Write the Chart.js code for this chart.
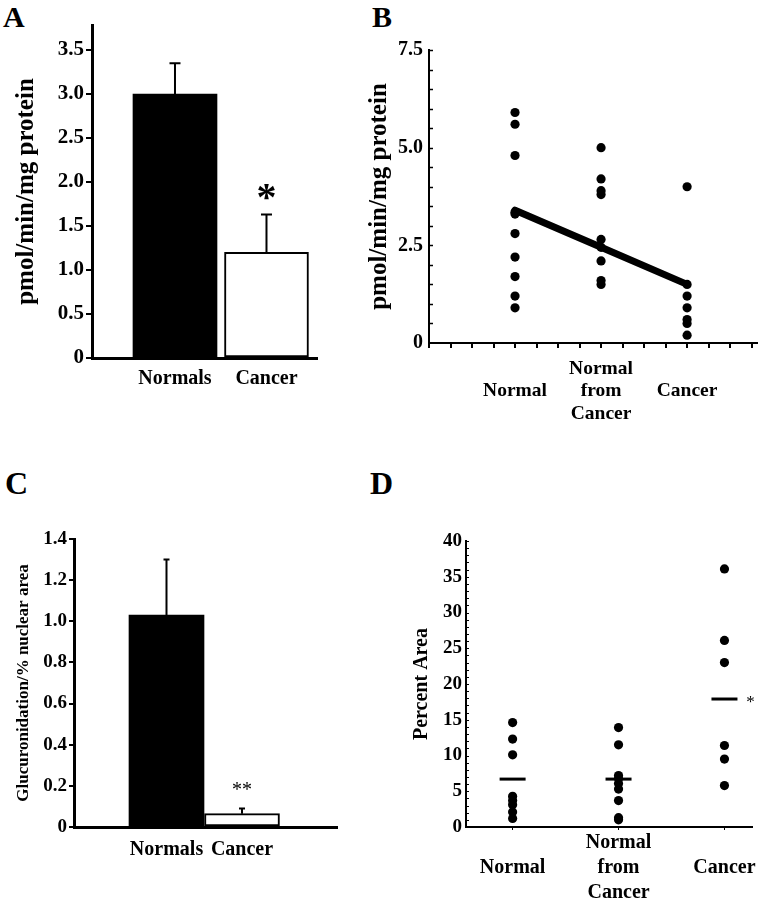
<!DOCTYPE html>
<html><head><meta charset="utf-8">
<script src="https://cdn.jsdelivr.net/npm/chart.js@4/dist/chart.umd.min.js"></script>
<style>
body{margin:0;background:#fff;width:779px;height:900px;position:relative;overflow:hidden;font-family:'Liberation Serif','Times New Roman',serif;}
canvas{position:absolute;}
.lbl{position:absolute;font-weight:bold;line-height:1;color:#000;}
</style></head><body>
<div class="lbl" style="left:3px;top:2px;font-size:30px">A</div>
<div class="lbl" style="left:372px;top:2px;font-size:30px">B</div>
<div class="lbl" style="left:5px;top:467px;font-size:32px">C</div>
<div class="lbl" style="left:370px;top:467px;font-size:32px">D</div>
<canvas id="cA" width="380" height="440" style="left:0;top:0"></canvas>
<canvas id="cB" width="419" height="440" style="left:360px;top:0"></canvas>
<canvas id="cC" width="380" height="450" style="left:0;top:450px"></canvas>
<canvas id="cD" width="399" height="450" style="left:380px;top:450px"></canvas>
<script>
// ---- data ----
const barCategories = ['Normals', 'Cancer'];
const activityMeans = [3.0, 1.2];
const activityErrors = [0.35, 0.43];
const yTicksA = [0, 0.5, 1.0, 1.5, 2.0, 2.5, 3.0, 3.5];

const groupCategories = [['Normal'], ['Normal', 'from', 'Cancer'], ['Cancer']];
const activityNormal = [5.9, 5.6, 4.8, 3.35, 3.3, 2.8, 2.2, 1.7, 1.2, 0.9];
const activityNormalFromCancer = [5.0, 4.2, 3.9, 3.8, 2.65, 2.45, 2.1, 1.6, 1.5];
const activityCancer = [4.0, 1.5, 1.2, 0.9, 0.6, 0.5, 0.2];
const activityFit = [3.4, 2.45, 1.5];
const yMajorB = [0, 2.5, 5.0, 7.5];

const glucMeans = [1.03, 0.065];
const glucErrors = [0.27, 0.025];
const yTicksC = [0, 0.2, 0.4, 0.6, 0.8, 1.0, 1.2, 1.4];

const areaNormal = [14.6, 12.3, 10.1, 4.3, 3.7, 3.1, 2.1, 1.2];
const areaNormalFromCancer = [13.9, 11.5, 7.2, 6.8, 6.1, 5.3, 3.7, 1.3, 1.0];
const areaCancer = [36.1, 26.1, 23.0, 11.4, 9.5, 5.8];
const areaMeans = [6.7, 6.7, 17.9];
const yMajorD = [0, 5, 10, 15, 20, 25, 30, 35, 40];

// ---- helpers ----
const FAM = "'Liberation Serif','Times New Roman',serif";
Chart.defaults.font.family = FAM;
Chart.defaults.font.weight = 'bold';
Chart.defaults.color = '#000';
const near = (a, b) => Math.abs(a - b) < 1e-6;
const fmt1 = v => near(v, 0) ? '0' : v.toFixed(1);
const fmtMajor = (list, f) => v => list.some(m => near(m, v)) ? f(v) : '';
const catLabel = cats => v => (near(v, Math.round(v)) && cats[Math.round(v)] !== undefined) ? cats[Math.round(v)] : '';

const errorBars = (cap, lw) => ({
  id: 'errorBars',
  afterDatasetsDraw(chart) {
    const ds = chart.data.datasets[0], meta = chart.getDatasetMeta(0), y = chart.scales.y, ctx = chart.ctx;
    ctx.save(); ctx.strokeStyle = '#000'; ctx.lineWidth = lw;
    meta.data.forEach((el, i) => {
      const top = y.getPixelForValue(ds.data[i].y + ds.errors[i]);
      ctx.beginPath();
      ctx.moveTo(el.x, el.y); ctx.lineTo(el.x, top);
      ctx.moveTo(el.x - cap / 2, top); ctx.lineTo(el.x + cap / 2, top);
      ctx.stroke();
    });
    ctx.restore();
  }
});
const marks = list => ({
  id: 'marks',
  afterDatasetsDraw(chart) {
    const ctx = chart.ctx;
    ctx.save(); ctx.fillStyle = '#000'; ctx.textAlign = 'center'; ctx.textBaseline = 'alphabetic';
    list.forEach(m => {
      ctx.font = m.font;
      const t = ctx.measureText(m.text);
      const px = chart.scales.x.getPixelForValue(m.x) + (m.dx || 0);
      const cy = chart.scales.y.getPixelForValue(m.y) + (m.dy || 0);
      ctx.fillText(m.text, px, cy + (t.actualBoundingBoxAscent - t.actualBoundingBoxDescent) / 2);
    });
    ctx.restore();
  }
});
const innerTicks = (len, lw) => ({
  id: 'innerTicks',
  afterDatasetsDraw(chart) {
    const s = chart.scales.y, ctx = chart.ctx, left = chart.chartArea.left;
    ctx.save(); ctx.strokeStyle = '#000'; ctx.lineWidth = lw;
    s.ticks.forEach(t => {
      if (near(t.value, s.min)) return;
      const y = Math.round(s.getPixelForValue(t.value)) + 0.5;
      ctx.beginPath(); ctx.moveTo(left, y); ctx.lineTo(left + len, y); ctx.stroke();
    });
    ctx.restore();
  }
});
const base = {
  responsive: false, animation: false, events: [], devicePixelRatio: 1,
  plugins: { legend: { display: false }, tooltip: { enabled: false } }
};
const groupPoints = groups => groups.flatMap((g, i) => g.map(v => ({ x: i, y: v })));

// ---- Panel A ----
new Chart(document.getElementById('cA'), {
  type: 'bar',
  data: { datasets: [{
    data: activityMeans.map((v, i) => ({ x: i, y: v })), errors: activityErrors,
    backgroundColor: ['#000', '#fff'], borderColor: '#000', borderWidth: [0, 2], borderSkipped: false, barThickness: 84
  }]},
  options: { ...base,
    layout: { padding: { left: 0, top: 25, right: 63, bottom: 0 } },
    scales: {
      x: { type: 'linear', min: -0.907, max: 1.552, offset: false,
        afterBuildTicks: s => { s.ticks = barCategories.map((c, i) => ({ value: i })); },
        afterFit: s => { s.height = 82; },
        grid: { display: false, drawTicks: false, offset: false },
        border: { display: true, color: '#000', width: 3, z: 1 },
        ticks: { callback: catLabel(barCategories), autoSkip: false, maxRotation: 0, padding: 9, font: { size: 20, weight: 'bold' } } },
      y: { min: 0, max: 3.784,
        afterBuildTicks: s => { s.ticks = yTicksA.map(v => ({ value: v })); },
        afterFit: s => { s.width = 92; },
        grid: { display: true, drawOnChartArea: false, drawTicks: true, tickLength: 6, lineWidth: 2, color: '#000' },
        border: { display: true, color: '#000', width: 3, z: 1 },
        ticks: { callback: fmt1, padding: 2, font: { size: 21, weight: 'bold' } },
        title: { display: true, text: 'pmol/min/mg protein', font: { size: 25, weight: 'bold' }, padding: { top: 12, bottom: 0 } } }
    }
  },
  plugins: [errorBars(11, 2), marks([{ x: 1, y: activityMeans[1] + activityErrors[1], dy: -23, text: '*', font: 'bold 40px ' + FAM }])]
});

// ---- Panel B ----
new Chart(document.getElementById('cB'), {
  type: 'scatter',
  data: { datasets: [
    { data: groupPoints([activityNormal, activityNormalFromCancer, activityCancer]),
      pointRadius: 4.6, backgroundColor: '#000', borderColor: '#000', borderWidth: 0 },
    { data: activityFit.map((v, i) => ({ x: i, y: v })), showLine: true, borderColor: '#000', borderWidth: 7,
      pointRadius: 0, borderCapStyle: 'round' }
  ]},
  options: { ...base,
    layout: { padding: { left: 0, top: 50, right: 22, bottom: 0 } },
    scales: {
      x: { type: 'linear', min: -1, max: 2.8125,
        afterFit: s => { s.height = 97; },
        grid: { display: true, drawOnChartArea: false, drawTicks: true, tickLength: 5, lineWidth: 2, color: '#000' },
        border: { display: true, color: '#000', width: 2 },
        ticks: { stepSize: 0.25, includeBounds: false, autoSkip: false, maxRotation: 0, crossAlign: 'center',
          callback: catLabel(groupCategories), padding: 21, font: { size: 19.5, weight: 'bold', lineHeight: 1.15 } } },
      y: { min: 0, max: 7.5,
        afterFit: s => { s.width = 69; },
        grid: { display: false, drawTicks: false },
        border: { display: true, color: '#000', width: 2 },
        ticks: { stepSize: 0.5, autoSkip: false, callback: fmtMajor(yMajorB, fmt1), padding: 6, font: { size: 20, weight: 'bold' } },
        title: { display: true, text: 'pmol/min/mg protein', font: { size: 25, weight: 'bold' }, padding: { top: 5, bottom: 0 } } }
    }
  },
  plugins: [innerTicks(4, 1.5)]
});

// ---- Panel C ----
new Chart(document.getElementById('cC'), {
  type: 'bar',
  data: { datasets: [{
    data: glucMeans.map((v, i) => ({ x: i, y: v })), errors: glucErrors,
    backgroundColor: ['#000', '#fff'], borderColor: '#000', borderWidth: [0, 2], borderSkipped: false, barThickness: 75
  }]},
  options: { ...base,
    layout: { padding: { left: 0, top: 89, right: 43, bottom: 0 } },
    scales: {
      x: { type: 'linear', min: -1.225, max: 2.258, offset: false,
        afterBuildTicks: s => { s.ticks = barCategories.map((c, i) => ({ value: i })); },
        afterFit: s => { s.height = 73; },
        grid: { display: false, drawTicks: false, offset: false },
        border: { display: true, color: '#000', width: 3, z: 1 },
        ticks: { callback: catLabel(barCategories), autoSkip: false, maxRotation: 0, padding: 11, font: { size: 20, weight: 'bold' } } },
      y: { min: 0, max: 1.4,
        afterBuildTicks: s => { s.ticks = yTicksC.map(v => ({ value: v })); },
        afterFit: s => { s.width = 74; },
        grid: { display: true, drawOnChartArea: false, drawTicks: true, tickLength: 5, lineWidth: 2, color: '#000' },
        border: { display: true, color: '#000', width: 3, z: 1 },
        ticks: { callback: fmt1, padding: 2, font: { size: 19, weight: 'bold' } },
        title: { display: true, text: 'Glucuronidation/% nuclear area', font: { size: 17, weight: 'bold' }, padding: { top: 13, bottom: 0 } } }
    }
  },
  plugins: [errorBars(6, 2), marks([{ x: 1, y: glucMeans[1] + glucErrors[1], dy: -22.5, text: '**', font: 'normal 20px ' + FAM }])]
});

// ---- Panel D ----
new Chart(document.getElementById('cD'), {
  type: 'scatter',
  data: { datasets: [
    { data: groupPoints([areaNormal, areaNormalFromCancer, areaCancer]),
      pointRadius: 4.6, backgroundColor: '#000', borderColor: '#000', borderWidth: 0 },
    { data: areaMeans.map((v, i) => ({ x: i, y: v })), pointStyle: 'line', pointRadius: 13,
      pointBorderWidth: 3, borderColor: '#000', backgroundColor: '#000' }
  ]},
  options: { ...base,
    layout: { padding: { left: 0, top: 91, right: 27, bottom: 0 } },
    scales: {
      x: { type: 'linear', min: -0.44, max: 2.26,
        afterBuildTicks: s => { s.ticks = groupCategories.map((c, i) => ({ value: i })); },
        afterFit: s => { s.height = 73; },
        grid: { display: true, drawOnChartArea: false, drawTicks: true, tickLength: 3, lineWidth: 1, color: '#000' },
        border: { display: true, color: '#000', width: 2 },
        ticks: { autoSkip: false, maxRotation: 0, crossAlign: 'center', callback: catLabel(groupCategories),
          padding: 13, font: { size: 20, weight: 'bold', lineHeight: 1.25 } } },
      y: { min: 0, max: 40,
        afterFit: s => { s.width = 86; },
        grid: { display: false, drawTicks: false },
        border: { display: true, color: '#000', width: 2 },
        ticks: { stepSize: 1, autoSkip: false, callback: fmtMajor(yMajorD, v => String(Math.round(v))), padding: 4, font: { size: 19, weight: 'bold' } },
        title: { display: true, text: 'Percent Area', font: { size: 20, weight: 'bold' }, padding: { top: 30, bottom: 0 } } }
    }
  },
  plugins: [innerTicks(3, 1), marks([{ x: 2, y: areaMeans[2], dx: 26, text: '*', font: 'normal 17px ' + FAM }])]
});
</script>
</body></html>
